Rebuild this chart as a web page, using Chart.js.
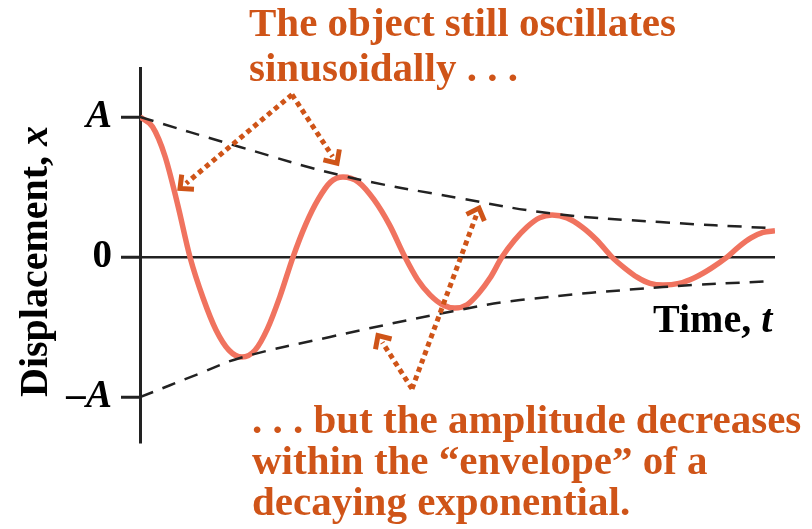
<!DOCTYPE html>
<html>
<head>
<meta charset="utf-8">
<script src="https://cdn.jsdelivr.net/npm/chart.js@4.4.1/dist/chart.umd.min.js"></script>
<style>
  body { margin: 0; background: #fff; }
  #wrap { width: 812px; height: 529px; }
</style>
</head>
<body>
<div id="wrap"><canvas id="myChart" width="812" height="529"></canvas></div>
<script>
// values (time in arbitrary units, displacement in units of A)
const timeT = [0, 0.125, 0.25, 0.375, 0.50, 0.63, 0.76, 0.89, 1.02, 1.15, 1.275, 1.40, 1.53,
  1.655, 1.78, 1.905, 2.03, 2.185, 2.34, 2.495, 2.65, 2.775, 2.90, 3.025, 3.15, 3.27, 3.385, 3.50, 3.62,
  3.745, 3.87, 3.995, 4.12, 4.27, 4.42, 4.57, 4.72, 4.85, 4.975, 5.10, 5.23, 5.39, 5.55, 5.71, 5.87,
  5.99, 6.11, 6.23, 6.35];
const dispX = [1.00, 0.93, 0.72, 0.38, 0, -0.29, -0.52, -0.665, -0.714, -0.665, -0.51, -0.28, 0,
  0.23, 0.41, 0.535, 0.571, 0.535, 0.41, 0.23, 0, -0.16, -0.27, -0.34, -0.364, -0.34, -0.26, -0.15, 0,
  0.12, 0.215, 0.28, 0.30, 0.28, 0.215, 0.12, 0, -0.08, -0.145, -0.188, -0.20, -0.188, -0.145, -0.08, 0,
  0.075, 0.137, 0.176, 0.188];

const upperT = [0, 1.0, 2.03, 3.2, 4.13, 5.2, 6.3];
const upperEnv = [1.0, 0.786, 0.58, 0.42, 0.31, 0.25, 0.207];
const lowerT = [0, 0.6, 1.0, 1.9, 3.13, 3.8, 5.23, 6.3];
const lowerEnv = [-1.0, -0.83, -0.72, -0.57, -0.386, -0.307, -0.214, -0.171];

const tickValues = [-1, 0, 1];
const tickLabels = ['–A', '0', 'A'];

// dotted callout arrows, [from, to] in data units
const noteArrows = [
  [[1.52, 1.16], [0.40, 0.49]],
  [[1.52, 1.16], [1.97, 0.67]],
  [[2.72, -0.94], [2.38, -0.56]],
  [[2.72, -0.94], [3.39, 0.35]]
];
const topNote = ['The object still oscillates', 'sinusoidally . . .'];
const bottomNote = ['. . . but the amplitude decreases', 'within the “envelope” of a', 'decaying exponential.'];

const orange = '#CF5418';
const ink = '#222';
const serif = '"Liberation Serif", "Times New Roman", serif';

function pts(xs, ys) {
  return xs.map((v, i) => ({ x: v, y: ys[i] }));
}

function drawArrow(c, x0, y0, x1, y1) {
  const ang = Math.atan2(y1 - y0, x1 - x0);
  const len = Math.hypot(x1 - x0, y1 - y0);
  c.save();
  c.strokeStyle = orange;
  c.lineWidth = 5;
  c.setLineDash([5, 4]);
  c.beginPath();
  c.moveTo(x0, y0);
  c.lineTo(x0 + Math.cos(ang) * (len - 8), y0 + Math.sin(ang) * (len - 8));
  c.stroke();
  c.setLineDash([]);
  c.lineJoin = 'miter';
  c.beginPath();
  const a = 0.75, h = 14;
  c.moveTo(x1 - Math.cos(ang - a) * h, y1 - Math.sin(ang - a) * h);
  c.lineTo(x1, y1);
  c.lineTo(x1 - Math.cos(ang + a) * h, y1 - Math.sin(ang + a) * h);
  c.stroke();
  c.restore();
}

const notes = {
  id: 'notes',
  afterDraw(chart) {
    const c = chart.ctx;
    const xs = chart.scales.x, ys = chart.scales.y;
    noteArrows.forEach(([f, t]) => {
      drawArrow(c, xs.getPixelForValue(f[0]), ys.getPixelForValue(f[1]),
        xs.getPixelForValue(t[0]), ys.getPixelForValue(t[1]));
    });

    c.save();
    c.fillStyle = orange;
    c.textBaseline = 'alphabetic';
    c.font = 'bold 41px ' + serif;
    topNote.forEach((s, i) => c.fillText(s, 249, 36 + i * 45));
    bottomNote.forEach((s, i) => c.fillText(s, 252, 433 + i * 41));

    // axis titles
    c.fillStyle = '#000';
    c.font = 'bold 40px ' + serif;
    c.fillText('Time, ', 653, 332);
    let w = c.measureText('Time, ').width;
    c.font = 'italic bold 40px ' + serif;
    c.fillText('t', 653 + w, 332);

    c.translate(47, 397);
    c.rotate(-Math.PI / 2);
    c.font = 'bold 40px ' + serif;
    c.fillText('Displacement, ', 0, 0);
    w = c.measureText('Displacement, ').width;
    c.font = 'italic bold 40px ' + serif;
    c.fillText('x', w, 0);
    c.restore();
  }
};

const ctx = document.getElementById('myChart');
const myChart = new Chart(ctx, {
  type: 'line',
  data: {
    datasets: [{
      data: pts(upperT, upperEnv),
      borderColor: ink,
      borderWidth: 2.5,
      borderDash: [14, 10],
      pointRadius: 0,
      tension: 0.4
    }, {
      data: pts(lowerT, lowerEnv),
      borderColor: ink,
      borderWidth: 2.5,
      borderDash: [14, 10],
      pointRadius: 0,
      tension: 0.4
    }, {
      data: pts(timeT, dispX),
      borderColor: '#F0735F',
      borderWidth: 5.5,
      pointRadius: 0,
      cubicInterpolationMode: 'monotone'
    }]
  },
  options: {
    responsive: false,
    animation: false,
    layout: { padding: { top: 68, right: 37, bottom: 87, left: 0 } },
    scales: {
      x: {
        type: 'linear',
        min: 0,
        max: 6.35,
        display: false
      },
      y: {
        min: -1.32,
        max: 1.35,
        afterFit: function (scale) { scale.width = 140; },
        afterBuildTicks: function (scale) {
          scale.ticks = tickValues.map(v => ({ value: v }));
        },
        ticks: {
          color: '#000',
          padding: 9,
          font: function (c) {
            const zero = c.tick && c.tick.value === 0;
            return { family: serif, size: 39, weight: 'bold', style: zero ? 'normal' : 'italic' };
          },
          callback: function (val) {
            return tickLabels[tickValues.indexOf(val)];
          }
        },
        border: { color: ink, width: 3 },
        grid: {
          drawTicks: true,
          tickLength: 19,
          tickWidth: 3,
          tickColor: ink,
          lineWidth: 2.5,
          color: function (c) {
            return c.tick && c.tick.value === 0 ? ink : 'rgba(0,0,0,0)';
          }
        }
      }
    },
    plugins: {
      legend: { display: false },
      tooltip: { enabled: false }
    }
  },
  plugins: [notes]
});
</script>
</body>
</html>
